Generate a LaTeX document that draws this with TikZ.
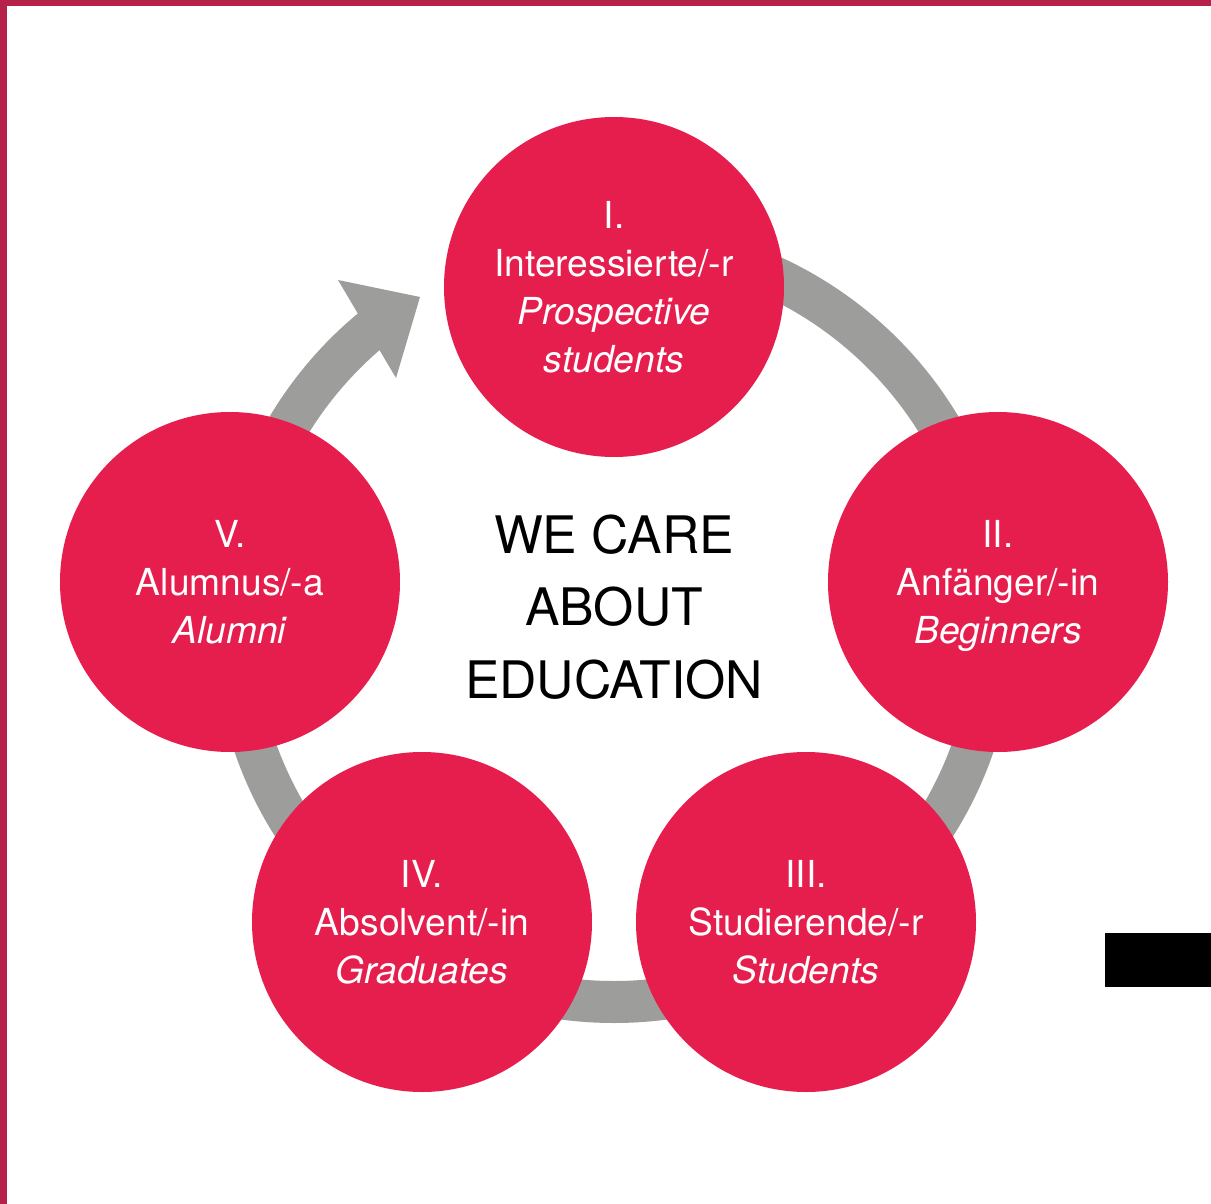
\documentclass[tikz,border=0pt]{standalone}
\usepackage{fontspec}
\setmainfont{TeX Gyre Heros}
\definecolor{ringgrey}{RGB}{157,157,156}
\definecolor{circred}{RGB}{230,30,77}
\definecolor{framered}{RGB}{182,33,74}
\begin{document}
\begin{tikzpicture}[x=1pt,y=-1pt,
  stage/.style={circle, fill=circred, minimum size=340pt, inner sep=0pt,
    text=white, font=\fontsize{37.2}{48}\selectfont, align=center, text depth=0pt},
  titletext/.style={font=\fontsize{51.7}{72.5}\selectfont, align=center, text=black},
  ringline/.style={draw=ringgrey, line width=42pt}]
\useasboundingbox (0,0) rectangle (1211,1204);
\fill[white] (0,0) rectangle (1211,1204);
\fill[framered] (0,0) rectangle (1211,6);
\fill[framered] (0,0) rectangle (7,1204);
% ring with arrow
\coordinate (ringc) at (614,622);
\draw[ringline] (ringc) ++(-90:380) arc[start angle=-90, end angle=233, radius=380];
\coordinate (hA) at (338,280);
\coordinate (hT) at (420,297);
\coordinate (hB) at (396,378);
\fill[ringgrey] (hA) -- (hT) -- (hB) -- cycle;
% stages
\node[stage] (s1) at (614,287) {I.\\Interessierte/-r\\\textit{Prospective}\\\textit{students}};
\node[stage] (s2) at (998,582) {II.\\Anfänger/-in\\\textit{Beginners}};
\node[stage] (s3) at (806,922) {III.\\Studierende/-r\\\textit{Students}};
\node[stage] (s4) at (422,922) {IV.\\Absolvent/-in\\\textit{Graduates}};
\node[stage] (s5) at (230,582) {V.\\Alumnus/-a\\\textit{Alumni}};
% title
\node[titletext] (title) at (614,607) {WE CARE\\ABOUT\\EDUCATION};
% black bar
\fill[black] (1105,933) rectangle (1211,987);
\end{tikzpicture}
\end{document}
